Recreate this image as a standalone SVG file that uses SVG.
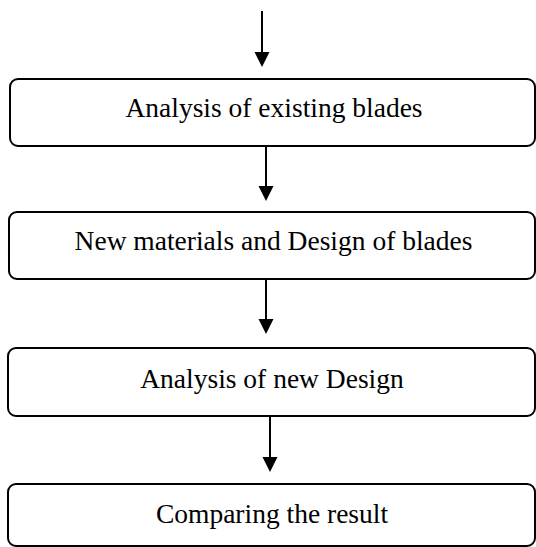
<svg xmlns="http://www.w3.org/2000/svg" width="536" height="547" viewBox="0 0 536 547">
  <defs>
    <style>
      .box { fill: #ffffff; stroke: #000000; stroke-width: 2; }
      .label { font-family: "Liberation Serif", "Times New Roman", serif; font-size: 27.5px; fill: #000000; text-anchor: middle; }
      .conn { stroke: #000000; stroke-width: 2; fill: none; }
      .head { fill: #000000; }
    </style>
  </defs>
  <rect width="536" height="547" fill="#ffffff"/>
  <g id="connectors">
    <line class="conn" x1="262" y1="11" x2="262" y2="54"/>
    <polygon class="head" points="254.5,52 269.5,52 262,67"/>
    <line class="conn" x1="266" y1="146" x2="266" y2="188"/>
    <polygon class="head" points="258.5,186 273.5,186 266,201"/>
    <line class="conn" x1="266" y1="279" x2="266" y2="321"/>
    <polygon class="head" points="258.5,319 273.5,319 266,334"/>
    <line class="conn" x1="270" y1="416" x2="270" y2="459"/>
    <polygon class="head" points="262.5,457 277.5,457 270,472"/>
  </g>
  <g id="node1">
    <rect class="box" x="10" y="79" width="525" height="67" rx="8" ry="8"/>
    <text class="label" x="274" y="117">Analysis of existing blades</text>
  </g>
  <g id="node2">
    <rect class="box" x="9" y="212" width="526" height="67" rx="8" ry="8"/>
    <text class="label" x="273.5" y="250">New materials and Design of blades</text>
  </g>
  <g id="node3">
    <rect class="box" x="8" y="348" width="527" height="68" rx="8" ry="8"/>
    <text class="label" x="272" y="388">Analysis of new Design</text>
  </g>
  <g id="node4">
    <rect class="box" x="8" y="484" width="527" height="62" rx="8" ry="8"/>
    <text class="label" x="272" y="523">Comparing the result</text>
  </g>
</svg>
